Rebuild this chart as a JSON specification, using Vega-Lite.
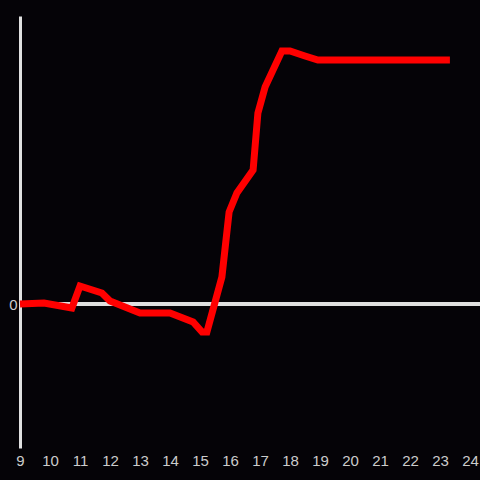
{
  "$schema": "https://vega.github.io/schema/vega-lite/v6.json",
  "width": 460,
  "height": 432,
  "autosize": {"type": "none"},
  "padding": {"left": 20, "top": 16, "right": 0, "bottom": 32},
  "background": "#050307",
  "config": {
    "view": {"stroke": null},
    "axis": {"grid": false, "labelFont": "Liberation Sans", "labelFontSize": 15, "labelColor": "#cccccc"}
  },
  "data": {"values": [
    {"t": 9.0, "v": 0},
    {"t": 9.8, "v": 1},
    {"t": 10.73, "v": -4},
    {"t": 11.0, "v": 18},
    {"t": 11.73, "v": 11},
    {"t": 12.0, "v": 3},
    {"t": 13.0, "v": -9},
    {"t": 14.0, "v": -9},
    {"t": 14.77, "v": -18},
    {"t": 15.07, "v": -28},
    {"t": 15.23, "v": -28},
    {"t": 15.73, "v": 27},
    {"t": 15.97, "v": 92},
    {"t": 16.23, "v": 111},
    {"t": 16.77, "v": 134},
    {"t": 16.93, "v": 191},
    {"t": 17.17, "v": 217},
    {"t": 17.73, "v": 253},
    {"t": 18.0, "v": 253},
    {"t": 18.5, "v": 248},
    {"t": 18.93, "v": 244},
    {"t": 23.33, "v": 244}
  ]},
  "layer": [
    {
      "mark": {"type": "rule", "color": "#e0e0e0", "strokeWidth": 3},
      "encoding": {"y": {"datum": 0, "type": "quantitative", "scale": {"domain": [-144, 288]}}}
    },
    {
      "mark": {"type": "line", "color": "#ff0000", "strokeWidth": 7},
      "encoding": {
        "x": {"field": "t", "type": "quantitative",
              "scale": {"domain": [9, 24.3333], "nice": false, "zero": false},
              "axis": {"title": null, "values": [9,10,11,12,13,14,15,16,17,18,19,20,21,22,23,24], "domain": false, "ticks": false, "labelPadding": 5, "labelFlush": false}},
        "y": {"field": "v", "type": "quantitative",
              "scale": {"domain": [-144, 288], "nice": false, "zero": false},
              "axis": {"title": null, "values": [0], "ticks": false, "domainColor": "#e0e0e0", "domainWidth": 3, "labelPadding": 3}}
      }
    }
  ]
}
